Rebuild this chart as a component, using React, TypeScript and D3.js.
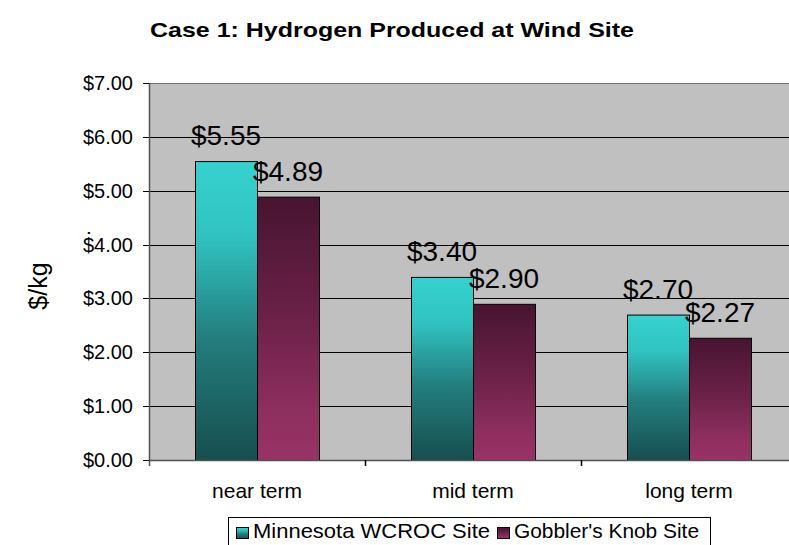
import * as React from "react";
import * as d3 from "d3";

const categories = ["near term", "mid term", "long term"];
const seriesNames = ["Minnesota WCROC Site", "Gobbler's Knob Site"];
const minnesotaValues = [5.55, 3.4, 2.7];
const gobblerValues = [4.89, 2.9, 2.27];
const yTicks = [0, 1, 2, 3, 4, 5, 6, 7];

const width = 789;
const height = 545;
const plot = { left: 149, right: 797, top: 83, bottom: 460 };
const barW = 62;
const font = "'Liberation Sans', Arial, sans-serif";

// gradient stops for each series (top -> bottom of every bar)
const gradients = [
  { id: "gradTeal", stops: [["0%", "#36d2cf"], ["25%", "#30c2c0"], ["60%", "#237c7c"], ["100%", "#174e4f"]] },
  { id: "gradMaroon", stops: [["0%", "#481430"], ["45%", "#6a2148"], ["80%", "#8c2e5e"], ["100%", "#993366"]] },
];

export default function App() {
  const x = d3.scaleBand().domain(categories).range([plot.left, plot.right]).paddingInner(0).paddingOuter(0);
  const y = d3.scaleLinear().domain([0, 7]).range([plot.bottom, plot.top]);
  const fmt = (v: number) => "$" + d3.format(".2f")(v);
  const series = [minnesotaValues, gobblerValues];
  const groupOffset = (x.bandwidth() - barW * 2) / 2;

  React.useEffect(() => {
    document.body.style.margin = "0";
  }, []);

  return (
    <svg width={width} height={height} style={{ display: "block", fontFamily: font, background: "#fff" }}>
      <defs>
        {gradients.map((g) => (
          <linearGradient key={g.id} id={g.id} x1="0" y1="0" x2="0" y2="1">
            {g.stops.map(([o, c]) => (
              <stop key={o} offset={o} stopColor={c} />
            ))}
          </linearGradient>
        ))}
      </defs>

      <text x={150} y={37} fontSize={21} fontWeight="bold" textLength={484} lengthAdjust="spacingAndGlyphs">
        Case 1: Hydrogen Produced at Wind Site
      </text>

      {/* plot area */}
      <rect x={plot.left} y={plot.top} width={plot.right - plot.left} height={plot.bottom - plot.top} fill="#c0c0c0" />
      <line x1={plot.left} x2={plot.right} y1={plot.top + 0.5} y2={plot.top + 0.5} stroke="#707070" />
      {yTicks.slice(1, -1).map((t) => (
        <line key={t} x1={plot.left} x2={plot.right} y1={Math.round(y(t)) + 0.5} y2={Math.round(y(t)) + 0.5} stroke="#000" />
      ))}

      {/* bars */}
      {categories.map((c, i) =>
        series.map((vals, s) => {
          const bx = (x(c) as number) + groupOffset + s * barW;
          return (
            <rect
              key={c + s}
              x={bx + 0.5}
              y={y(vals[i]) + 0.5}
              width={barW}
              height={plot.bottom - y(vals[i])}
              fill={`url(#${gradients[s].id})`}
              stroke="#000"
              strokeWidth={1}
            />
          );
        })
      )}

      {/* axes */}
      <line x1={plot.left + 0.5} x2={plot.left + 0.5} y1={plot.top} y2={plot.bottom + 6} stroke="#505050" strokeWidth={1.5} />
      <line x1={plot.left} x2={plot.right} y1={plot.bottom + 0.5} y2={plot.bottom + 0.5} stroke="#505050" strokeWidth={1.5} />
      {yTicks.map((t) => (
        <g key={t}>
          <line x1={plot.left - 6} x2={plot.left} y1={Math.round(y(t)) + 0.5} y2={Math.round(y(t)) + 0.5} stroke="#000" />
          <text x={133} y={y(t) + 7} textAnchor="end" fontSize={20}>
            {fmt(t)}
          </text>
        </g>
      ))}
      {categories.map((c, i) => (
        <g key={c}>
          {i > 0 && (
            <line x1={(x(c) as number) + 0.5} x2={(x(c) as number) + 0.5} y1={plot.bottom} y2={plot.bottom + 6} stroke="#000" strokeWidth={1.5} />
          )}
          <text x={(x(c) as number) + x.bandwidth() / 2} y={498} textAnchor="middle" fontSize={21}>
            {c}
          </text>
        </g>
      ))}

      {/* value labels */}
      {categories.map((c, i) =>
        series.map((vals, s) => {
          const bx = (x(c) as number) + groupOffset + s * barW + barW / 2;
          return (
            <text key={"l" + c + s} x={bx} y={y(vals[i]) - 16} textAnchor="middle" fontSize={28}>
              {fmt(vals[i])}
            </text>
          );
        })
      )}

      {/* y axis title */}
      <text transform={`translate(47,286) rotate(-90)`} textAnchor="middle" fontSize={25}>
        $/kg
      </text>
      <text transform={`translate(90,233) rotate(-90)`} textAnchor="middle" fontSize={20}>
        .
      </text>

      {/* legend */}
      <rect x={228.5} y={517.5} width={482} height={40} fill="#fff" stroke="#000" />
      {seriesNames.map((n, s) => {
        const lx = s === 0 ? 236 : 497;
        const tl = s === 0 ? 237 : 185;
        return (
          <g key={n}>
            <rect x={lx + 0.5} y={527.5} width={12} height={11} fill={`url(#${gradients[s].id})`} stroke="#000" />
            <text x={lx + 17} y={538} fontSize={21} textLength={tl} lengthAdjust="spacingAndGlyphs">
              {n}
            </text>
          </g>
        );
      })}
    </svg>
  );
}
